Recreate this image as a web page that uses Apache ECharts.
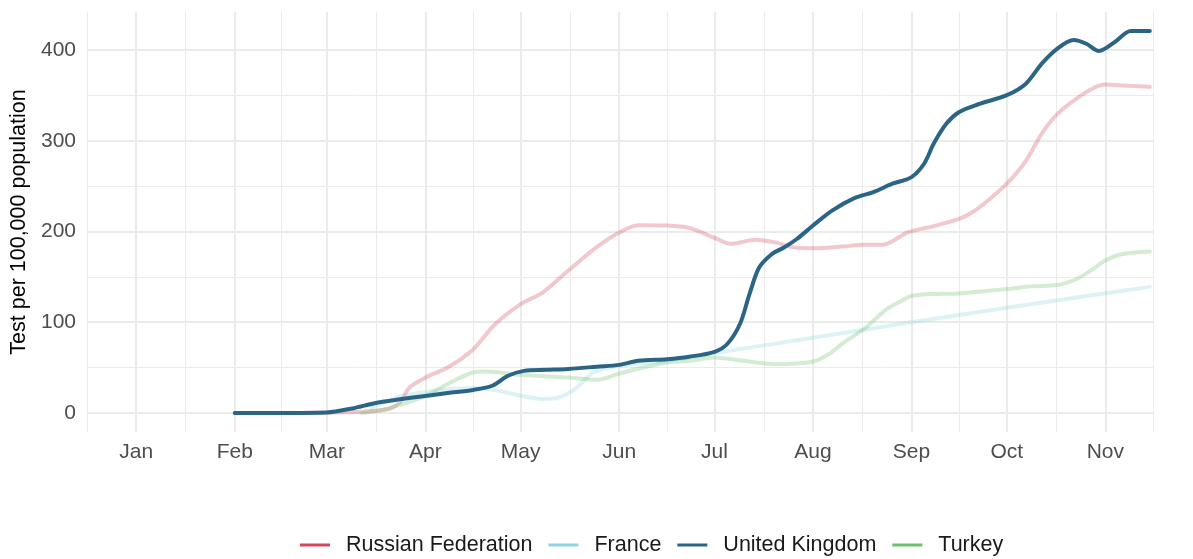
<!DOCTYPE html>
<html>
<head>
<meta charset="utf-8">
<script src="https://cdn.jsdelivr.net/npm/echarts@6/dist/echarts.min.js"></script>
<style>
html,body{margin:0;padding:0;background:#fff;}
#chart{width:1193px;height:559px;}
</style>
</head>
<body>
<div id="chart"></div>
<script>
// ---- data ----
const monthNames = ['Jan','Feb','Mar','Apr','May','Jun','Jul','Aug','Sep','Oct','Nov'];
const monthStarts = ['2020-01-01','2020-02-01','2020-03-01','2020-04-01','2020-05-01','2020-06-01','2020-07-01','2020-08-01','2020-09-01','2020-10-01','2020-11-01'];
const outerBounds = ['2019-12-01','2020-12-01'];
const yTicks = [0,100,200,300,400];
const yMinorTicks = [50,150,250,350];

const seriesNames = ['Russian Federation','France','United Kingdom','Turkey'];

const ruDates = ['2020-02-20','2020-03-01','2020-03-10','2020-03-20','2020-03-24','2020-03-27','2020-04-01','2020-04-08','2020-04-16','2020-04-23','2020-05-01','2020-05-08','2020-05-16','2020-05-25','2020-06-01','2020-06-07','2020-06-16','2020-06-23','2020-07-01','2020-07-06','2020-07-14','2020-07-20','2020-07-27','2020-08-01','2020-08-10','2020-08-17','2020-08-23','2020-08-31','2020-09-08','2020-09-16','2020-09-20','2020-09-25','2020-10-01','2020-10-07','2020-10-12','2020-10-17','2020-10-23','2020-10-28','2020-11-01','2020-11-06','2020-11-15'];
const ruValues = [0,0.5,1,4,12,28,39,50,70,98,120,133,157,183,199,207,206.6,204,193,186.4,190.8,188,182,181.5,183.4,185.3,185.5,199.3,206,214,221,234,252.7,278,308,330,346.7,357.7,362,361,359.5];

const frDates = ['2020-03-15','2020-03-20','2020-03-25','2020-04-01','2020-04-08','2020-04-16','2020-04-23','2020-05-01','2020-05-08','2020-05-13','2020-05-18','2020-05-24','2020-06-01','2020-06-15','2020-07-01','2020-08-01','2020-09-01','2020-10-01','2020-11-01','2020-11-15'];
const frValues = [5,13,19,23,26,27.5,25,19,15.5,17,26,45,52,57,66,83,100,116,132,139];

const ukDates = ['2020-02-01','2020-02-15','2020-03-01','2020-03-09','2020-03-16','2020-03-24','2020-04-01','2020-04-08','2020-04-16','2020-04-22','2020-04-27','2020-05-02','2020-05-09','2020-05-16','2020-05-25','2020-06-01','2020-06-07','2020-06-16','2020-06-23','2020-07-01','2020-07-05','2020-07-09','2020-07-12','2020-07-15','2020-07-19','2020-07-23','2020-07-27','2020-08-01','2020-08-07','2020-08-14','2020-08-20','2020-08-26','2020-09-01','2020-09-05','2020-09-08','2020-09-12','2020-09-16','2020-09-22','2020-10-01','2020-10-07','2020-10-12','2020-10-17','2020-10-22','2020-10-26','2020-10-30','2020-11-04','2020-11-09','2020-11-15'];
const ukValues = [0,0,0.5,5,10.7,15,18.8,22,25.4,30,41,46.4,47.5,48.5,51,53,57.5,59.3,62,67.4,76,98,131,160,175,182.6,192,206.6,223,236.8,243.5,252.7,260,275,297,319,331.8,340.3,350.3,363,385,401.8,411,407,399,409,421,421];

const trDates = ['2020-03-12','2020-03-18','2020-03-23','2020-04-01','2020-04-08','2020-04-16','2020-04-20','2020-05-01','2020-05-16','2020-05-25','2020-06-01','2020-06-11','2020-06-16','2020-06-23','2020-07-01','2020-07-09','2020-07-20','2020-08-01','2020-08-06','2020-08-10','2020-08-17','2020-08-24','2020-08-28','2020-09-01','2020-09-07','2020-09-16','2020-09-23','2020-10-01','2020-10-09','2020-10-17','2020-10-23','2020-10-27','2020-11-01','2020-11-06','2020-11-15'];
const trValues = [0,3,7.7,18.8,32,44.6,45.6,42,39,36.5,43.5,52,55.6,57.5,61,58,53.8,56.7,64.8,76,92.5,114,122,129,131,131.8,134,136.6,139.6,141,147.7,156,168,175,178];

// ---- build ----
const toTs = s => Date.parse(s + 'T00:00:00Z');
const pair = (ds, vs) => ds.map((d, i) => [toTs(d), vs[i]]);

const bounds = [outerBounds[0]].concat(monthStarts, [outerBounds[1]]).map(toTs);
const minorX = [];
for (let i = 0; i < bounds.length - 1; i++) minorX.push((bounds[i] + bounds[i + 1]) / 2);
const majorX = monthStarts.map(toTs);
const xMin = minorX[0];
const xMax = minorX[minorX.length - 1];

const FONT = '"Liberation Sans", Arial, Helvetica, sans-serif';
const GRID = '#EBEBEB';
const colors = {
  'Russian Federation': '#d1495b',
  'France': '#8fd4de',
  'United Kingdom': '#2b6585',
  'Turkey': '#6cbf6c'
};
function rgba(hex, a) {
  const n = parseInt(hex.slice(1), 16);
  return 'rgba(' + ((n >> 16) & 255) + ',' + ((n >> 8) & 255) + ',' + (n & 255) + ',' + a + ')';
}

const gridLines = [];
minorX.forEach(v => gridLines.push({ xAxis: v, lineStyle: { color: GRID, width: 1, type: 'solid' } }));
yMinorTicks.forEach(v => gridLines.push({ yAxis: v, lineStyle: { color: GRID, width: 1, type: 'solid' } }));
majorX.forEach(v => gridLines.push({ xAxis: v, lineStyle: { color: GRID, width: 2, type: 'solid' } }));
yTicks.forEach(v => gridLines.push({ yAxis: v, lineStyle: { color: GRID, width: 2, type: 'solid' } }));

function lineSeries(name, data, alpha, z) {
  return {
    name: name,
    type: 'line',
    data: data,
    smooth: 0.3,
    symbol: 'none',
    showSymbol: false,
    z: z,
    itemStyle: { color: colors[name] },
    lineStyle: { color: rgba(colors[name], alpha), width: 4, cap: 'round', join: 'round' },
    emphasis: { disabled: true },
    animation: false
  };
}

const chart = echarts.init(document.getElementById('chart'), null, { renderer: 'canvas' });
chart.setOption({
  backgroundColor: '#ffffff',
  animation: false,
  textStyle: { fontFamily: FONT },
  grid: { left: 87, right: 40, top: 12, bottom: 127, containLabel: false },
  xAxis: {
    type: 'value',
    min: xMin,
    max: xMax,
    axisLine: { show: false },
    axisTick: { show: false },
    splitLine: { show: false },
    axisLabel: {
      customValues: majorX,
      formatter: v => monthNames[new Date(v).getUTCMonth()],
      color: '#4D4D4D',
      fontSize: 21,
      fontFamily: FONT,
      margin: 10
    }
  },
  yAxis: {
    type: 'value',
    min: -21,
    max: 442,
    name: 'Test per 100,000 population',
    nameLocation: 'middle',
    nameGap: 50,
    nameTextStyle: { color: '#000000', fontSize: 21.5, fontFamily: FONT },
    axisLine: { show: false },
    axisTick: { show: false },
    splitLine: { show: false },
    axisLabel: {
      customValues: yTicks,
      color: '#4D4D4D',
      fontSize: 21,
      fontFamily: FONT,
      margin: 11
    }
  },
  legend: {
    left: 300,
    top: 534,
    padding: 0,
    icon: 'rect',
    itemWidth: 30,
    itemHeight: 3,
    itemGap: 16,
    selectedMode: false,
    textStyle: { fontSize: 21.5, color: '#1A1A1A', fontFamily: FONT, padding: [0, 0, 0, 11] },
    data: seriesNames.map(n => ({ name: n, itemStyle: { color: colors[n] } }))
  },
  series: [
    {
      name: 'grid',
      type: 'line',
      data: [],
      z: 0,
      silent: true,
      markLine: {
        z: 0,
        silent: true,
        symbol: ['none', 'none'],
        label: { show: false },
        animation: false,
        emphasis: { disabled: true },
        data: gridLines
      }
    },
    lineSeries('Russian Federation', pair(ruDates, ruValues), 0.3, 2),
    lineSeries('France', pair(frDates, frValues), 0.3, 2),
    lineSeries('Turkey', pair(trDates, trValues), 0.3, 2),
    lineSeries('United Kingdom', pair(ukDates, ukValues), 1, 3)
  ]
});
</script>
</body>
</html>
